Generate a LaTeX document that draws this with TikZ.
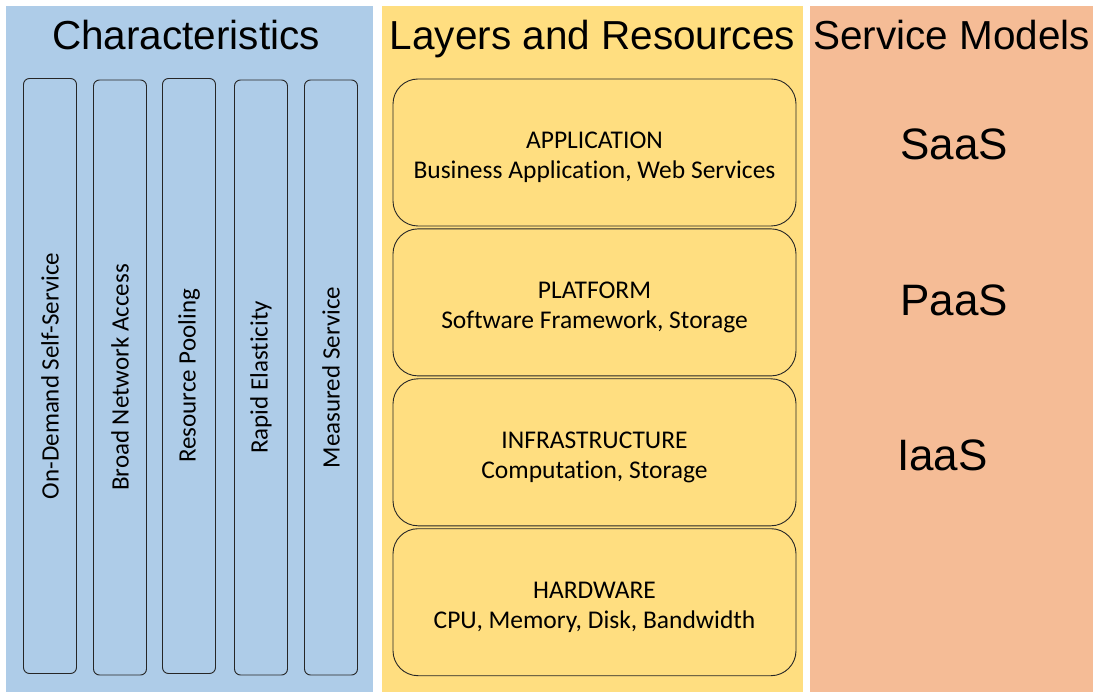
\documentclass[tikz,border=0pt]{standalone}
\usepackage{fontspec}
\setmainfont{Carlito}[Ligatures=NoCommon]
\newfontfamily\headfont{Liberation Sans}
\usepackage{tikz}
\usetikzlibrary{positioning}
\definecolor{colblue}{RGB}{174,204,232}
\definecolor{colyellow}{RGB}{255,222,128}
\definecolor{colorange}{RGB}{245,188,150}
\tikzstyle{heading} = [anchor=base, inner sep=0pt, font=\headfont\fontsize{40.5}{48}\selectfont]
\tikzstyle{model} = [anchor=base west, inner sep=0pt, font=\headfont\fontsize{44}{52}\selectfont]
\tikzstyle{charbox} = [rectangle, rotate=90, rounded corners=6pt, minimum width=595pt, minimum height=53pt, inner sep=0pt, draw=black!85, line width=0.9pt, font=\fontsize{25}{30}\selectfont]
\tikzstyle{layer} = [rectangle, rounded corners=25pt, minimum width=403pt, minimum height=147pt, inner sep=0pt, align=center, draw=black!85, line width=0.9pt, font=\fontsize{25.5}{30}\selectfont]
\newcommand{\layertext}[2]{\rule{0pt}{27pt}#1\\#2}

\begin{document}
\begin{tikzpicture}[x=1pt, y=-1pt, node distance=2pt]
\useasboundingbox (0,0) rectangle (1093,692);
% Three columns
\fill[colblue] (6,6) rectangle (373,692);
\fill[colyellow] (382,6) rectangle (803,692);
\fill[colorange] (810,6) rectangle (1093,692);

\node[heading] (hchar) at (186,50) {Characteristics};
\node[heading] (hlayer) at (592.5,50) {Layers and Resources};
\node[heading] (hmodel) at (951.5,50) {Service Models};

% Characteristics
\node[charbox] (ondemand) at (50,376) {On-Demand Self-Service};
\node[charbox] (network) at (120,377.5) {Broad Network Access};
\node[charbox] (pooling) at (189,376) {Resource Pooling};
\node[charbox] (elastic) at (261,377.5) {Rapid Elasticity};
\node[charbox] (measured) at (331,377.5) {Measured Service};

% Layers and resources
\node[layer] (app) at (594.5,152.5) {\layertext{APPLICATION}{Business Application, Web Services}};
\node[layer, below=of app] (plat) {\layertext{PLATFORM}{Software Framework, Storage}};
\node[layer, below=of plat] (infra) {\layertext{INFRASTRUCTURE}{Computation, Storage}};
\node[layer, below=of infra] (hw) {\layertext{HARDWARE}{CPU, Memory, Disk, Bandwidth}};

% Service models
\node[model] (saas) at (900,160) {SaaS};
\node[model] (paas) at (900,316) {PaaS};
\node[model] (iaas) at (897,471) {IaaS};
\end{tikzpicture}
\end{document}
